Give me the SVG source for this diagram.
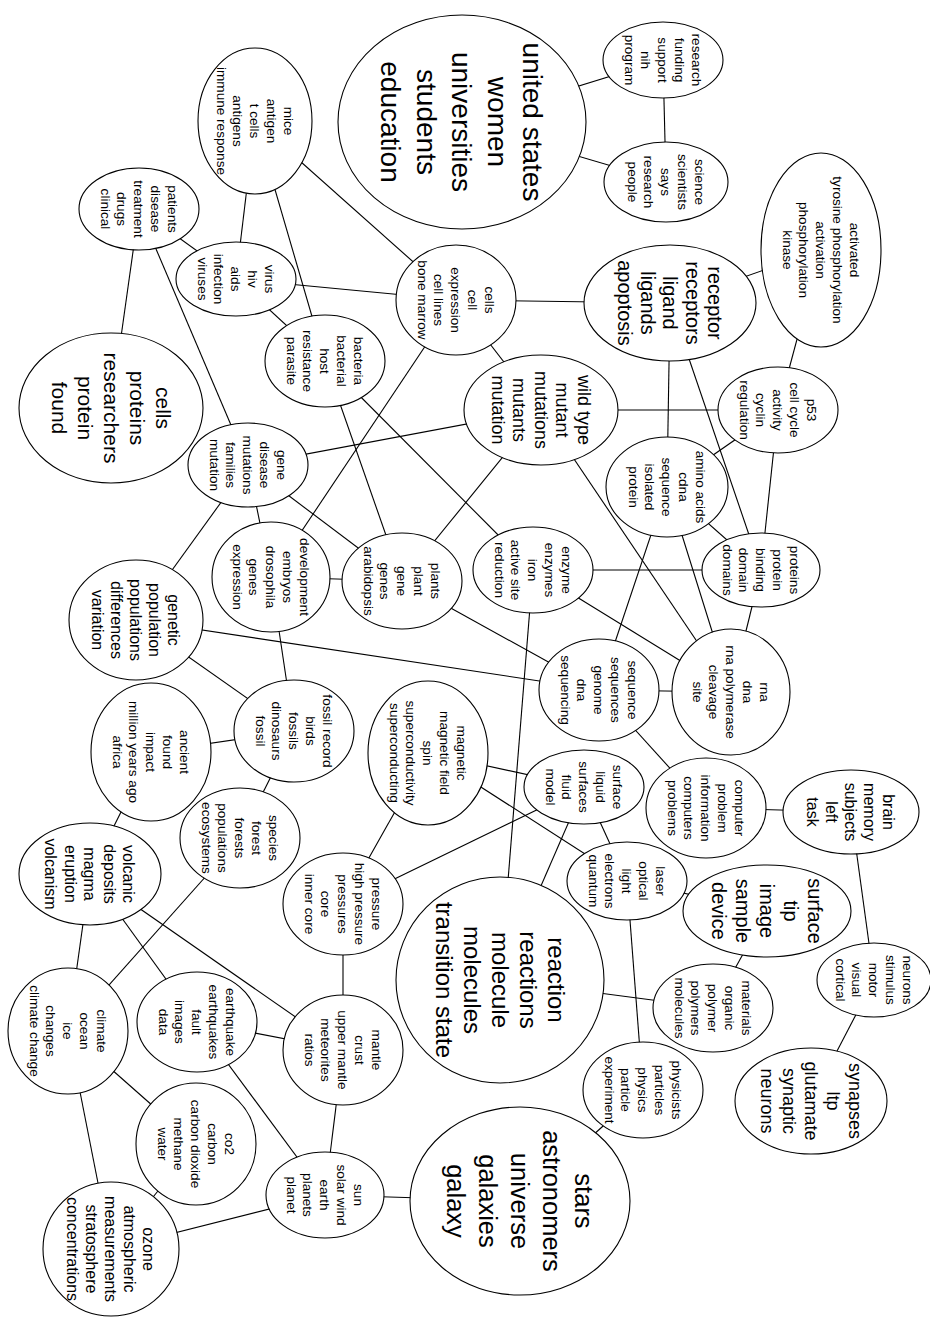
<svg xmlns="http://www.w3.org/2000/svg" width="930" height="1319" viewBox="0 0 930 1319">
<style>
rect.bg{fill:#fff}
.node ellipse{fill:#fff;stroke:#000;stroke-width:1.1}
.node text{font-family:"Liberation Sans",Arial,Helvetica,sans-serif;text-anchor:middle;fill:#000}
.t14{font-size:13.6px}.t16{font-size:16px}.t18{font-size:18px}.t20{font-size:20px}.t21{font-size:21px}.t24{font-size:24px}.t26{font-size:25.5px}.t28{font-size:28px}
#edges line{stroke:#000;stroke-width:1.1}
</style>
<rect class="bg" x="0" y="0" width="930" height="1319"/>
<g id="edges">
<line x1="462" y1="122" x2="663" y2="60"/>
<line x1="462" y1="122" x2="666" y2="182"/>
<line x1="663" y1="60" x2="666" y2="182"/>
<line x1="255" y1="121" x2="456" y2="300"/>
<line x1="456" y1="300" x2="670" y2="303"/>
<line x1="236" y1="279" x2="456" y2="300"/>
<line x1="255" y1="121" x2="236" y2="279"/>
<line x1="255" y1="121" x2="325" y2="361"/>
<line x1="236" y1="279" x2="325" y2="361"/>
<line x1="139" y1="209" x2="236" y2="279"/>
<line x1="139" y1="209" x2="111" y2="408"/>
<line x1="139" y1="209" x2="248" y2="465"/>
<line x1="456" y1="300" x2="541" y2="410"/>
<line x1="456" y1="300" x2="271" y2="577"/>
<line x1="325" y1="361" x2="402" y2="581"/>
<line x1="325" y1="361" x2="533" y2="570"/>
<line x1="248" y1="465" x2="541" y2="410"/>
<line x1="541" y1="410" x2="402" y2="581"/>
<line x1="541" y1="410" x2="731" y2="692"/>
<line x1="248" y1="465" x2="271" y2="577"/>
<line x1="248" y1="465" x2="136" y2="620"/>
<line x1="248" y1="465" x2="402" y2="581"/>
<line x1="271" y1="577" x2="402" y2="581"/>
<line x1="136" y1="620" x2="294" y2="731"/>
<line x1="136" y1="620" x2="599" y2="690"/>
<line x1="271" y1="577" x2="294" y2="731"/>
<line x1="294" y1="731" x2="151" y2="752"/>
<line x1="294" y1="731" x2="240" y2="838"/>
<line x1="151" y1="752" x2="90" y2="874"/>
<line x1="240" y1="838" x2="68" y2="1031"/>
<line x1="90" y1="874" x2="68" y2="1031"/>
<line x1="90" y1="874" x2="197" y2="1022"/>
<line x1="90" y1="874" x2="343" y2="1050"/>
<line x1="428" y1="753" x2="343" y2="904"/>
<line x1="428" y1="753" x2="584" y2="787"/>
<line x1="428" y1="753" x2="627" y2="881"/>
<line x1="343" y1="904" x2="584" y2="787"/>
<line x1="533" y1="570" x2="500" y2="980"/>
<line x1="584" y1="787" x2="500" y2="980"/>
<line x1="584" y1="787" x2="627" y2="881"/>
<line x1="599" y1="690" x2="731" y2="692"/>
<line x1="599" y1="690" x2="706" y2="808"/>
<line x1="706" y1="808" x2="851" y2="812"/>
<line x1="851" y1="812" x2="874" y2="980"/>
<line x1="874" y1="980" x2="811" y2="1101"/>
<line x1="627" y1="881" x2="767" y2="911"/>
<line x1="767" y1="911" x2="713" y2="1008"/>
<line x1="627" y1="881" x2="643" y2="1090"/>
<line x1="500" y1="980" x2="713" y2="1008"/>
<line x1="643" y1="1090" x2="520" y2="1201"/>
<line x1="520" y1="1201" x2="325" y2="1195"/>
<line x1="343" y1="1050" x2="325" y2="1195"/>
<line x1="343" y1="904" x2="343" y2="1050"/>
<line x1="197" y1="1022" x2="343" y2="1050"/>
<line x1="197" y1="1022" x2="325" y2="1195"/>
<line x1="68" y1="1031" x2="196" y2="1144"/>
<line x1="68" y1="1031" x2="111" y2="1249"/>
<line x1="196" y1="1144" x2="111" y2="1249"/>
<line x1="111" y1="1249" x2="325" y2="1195"/>
<line x1="541" y1="410" x2="778" y2="410"/>
<line x1="670" y1="303" x2="667" y2="487"/>
<line x1="670" y1="303" x2="761" y2="570"/>
<line x1="821" y1="250" x2="778" y2="410"/>
<line x1="778" y1="410" x2="667" y2="487"/>
<line x1="778" y1="410" x2="761" y2="570"/>
<line x1="667" y1="487" x2="761" y2="570"/>
<line x1="533" y1="570" x2="761" y2="570"/>
<line x1="667" y1="487" x2="599" y2="690"/>
<line x1="667" y1="487" x2="731" y2="692"/>
<line x1="761" y1="570" x2="731" y2="692"/>
<line x1="533" y1="570" x2="731" y2="692"/>
<line x1="402" y1="581" x2="599" y2="690"/>
<line x1="670" y1="303" x2="821" y2="250"/>
</g>
<g id="n-us" class="node"><ellipse cx="462" cy="122" rx="124" ry="107"/><text class="t28" transform="rotate(90 462 122)"><tspan x="462" y="60.8">united states</tspan><tspan x="462" dy="35.5">women</tspan><tspan x="462" dy="35.5">universities</tspan><tspan x="462" dy="35.5">students</tspan><tspan x="462" dy="35.5">education</tspan></text></g>
<g id="n-research" class="node"><ellipse cx="663" cy="60" rx="60" ry="38"/><text class="t14" transform="rotate(90 663 60)"><tspan x="663" y="31.16">research</tspan><tspan x="663" dy="16.8">funding</tspan><tspan x="663" dy="16.8">support</tspan><tspan x="663" dy="16.8">nih</tspan><tspan x="663" dy="16.8">program</tspan></text></g>
<g id="n-science" class="node"><ellipse cx="666" cy="182" rx="62" ry="40"/><text class="t14" transform="rotate(90 666 182)"><tspan x="666" y="153.16">science</tspan><tspan x="666" dy="16.8">scientists</tspan><tspan x="666" dy="16.8">says</tspan><tspan x="666" dy="16.8">research</tspan><tspan x="666" dy="16.8">people</tspan></text></g>
<g id="n-activated" class="node"><ellipse cx="821" cy="250" rx="60" ry="97"/><text class="t14" transform="rotate(90 821 250)"><tspan x="821" y="221.16">activated</tspan><tspan x="821" dy="16.8">tyrosine phosphorylation</tspan><tspan x="821" dy="16.8">activation</tspan><tspan x="821" dy="16.8">phosphorylation</tspan><tspan x="821" dy="16.8">kinase</tspan></text></g>
<g id="n-receptor" class="node"><ellipse cx="670" cy="303" rx="86" ry="58"/><text class="t20" transform="rotate(90 670 303)"><tspan x="670" y="265">receptor</tspan><tspan x="670" dy="22.5">receptors</tspan><tspan x="670" dy="22.5">ligand</tspan><tspan x="670" dy="22.5">ligands</tspan><tspan x="670" dy="22.5">apoptosis</tspan></text></g>
<g id="n-cellsx" class="node"><ellipse cx="456" cy="300" rx="60" ry="55"/><text class="t14" transform="rotate(90 456 300)"><tspan x="456" y="271.16">cells</tspan><tspan x="456" dy="16.8">cell</tspan><tspan x="456" dy="16.8">expression</tspan><tspan x="456" dy="16.8">cell lines</tspan><tspan x="456" dy="16.8">bone marrow</tspan></text></g>
<g id="n-mice" class="node"><ellipse cx="255" cy="121" rx="57" ry="73"/><text class="t14" transform="rotate(90 255 121)"><tspan x="255" y="92.16">mice</tspan><tspan x="255" dy="16.8">antigen</tspan><tspan x="255" dy="16.8">t cells</tspan><tspan x="255" dy="16.8">antigens</tspan><tspan x="255" dy="16.8">immune response</tspan></text></g>
<g id="n-patients" class="node"><ellipse cx="139" cy="209" rx="60" ry="41"/><text class="t14" transform="rotate(90 139 209)"><tspan x="139" y="180.16">patients</tspan><tspan x="139" dy="16.8">disease</tspan><tspan x="139" dy="16.8">treatment</tspan><tspan x="139" dy="16.8">drugs</tspan><tspan x="139" dy="16.8">clinical</tspan></text></g>
<g id="n-virus" class="node"><ellipse cx="236" cy="279" rx="60" ry="37"/><text class="t14" transform="rotate(90 236 279)"><tspan x="236" y="250.16">virus</tspan><tspan x="236" dy="16.8">hiv</tspan><tspan x="236" dy="16.8">aids</tspan><tspan x="236" dy="16.8">infection</tspan><tspan x="236" dy="16.8">viruses</tspan></text></g>
<g id="n-bacteria" class="node"><ellipse cx="325" cy="361" rx="60" ry="46"/><text class="t14" transform="rotate(90 325 361)"><tspan x="325" y="332.16">bacteria</tspan><tspan x="325" dy="16.8">bacterial</tspan><tspan x="325" dy="16.8">host</tspan><tspan x="325" dy="16.8">resistance</tspan><tspan x="325" dy="16.8">parasite</tspan></text></g>
<g id="n-cellsp" class="node"><ellipse cx="111" cy="408" rx="92" ry="75"/><text class="t21" transform="rotate(90 111 408)"><tspan x="111" y="363.35">cells</tspan><tspan x="111" dy="26">proteins</tspan><tspan x="111" dy="26">researchers</tspan><tspan x="111" dy="26">protein</tspan><tspan x="111" dy="26">found</tspan></text></g>
<g id="n-wild" class="node"><ellipse cx="541" cy="410" rx="77" ry="55"/><text class="t18" transform="rotate(90 541 410)"><tspan x="541" y="373.3">wild type</tspan><tspan x="541" dy="21.5">mutant</tspan><tspan x="541" dy="21.5">mutations</tspan><tspan x="541" dy="21.5">mutants</tspan><tspan x="541" dy="21.5">mutation</tspan></text></g>
<g id="n-gene" class="node"><ellipse cx="248" cy="465" rx="60" ry="42"/><text class="t14" transform="rotate(90 248 465)"><tspan x="248" y="436.16">gene</tspan><tspan x="248" dy="16.8">disease</tspan><tspan x="248" dy="16.8">mutations</tspan><tspan x="248" dy="16.8">families</tspan><tspan x="248" dy="16.8">mutation</tspan></text></g>
<g id="n-development" class="node"><ellipse cx="271" cy="577" rx="59" ry="55"/><text class="t14" transform="rotate(90 271 577)"><tspan x="271" y="548.16">development</tspan><tspan x="271" dy="16.8">embryos</tspan><tspan x="271" dy="16.8">drosophila</tspan><tspan x="271" dy="16.8">genes</tspan><tspan x="271" dy="16.8">expression</tspan></text></g>
<g id="n-genetic" class="node"><ellipse cx="136" cy="620" rx="67" ry="60"/><text class="t16" transform="rotate(90 136 620)"><tspan x="136" y="587.6">genetic</tspan><tspan x="136" dy="19">population</tspan><tspan x="136" dy="19">populations</tspan><tspan x="136" dy="19">differences</tspan><tspan x="136" dy="19">variation</tspan></text></g>
<g id="n-plants" class="node"><ellipse cx="402" cy="581" rx="60" ry="48"/><text class="t14" transform="rotate(90 402 581)"><tspan x="402" y="552.16">plants</tspan><tspan x="402" dy="16.8">plant</tspan><tspan x="402" dy="16.8">gene</tspan><tspan x="402" dy="16.8">genes</tspan><tspan x="402" dy="16.8">arabidopsis</tspan></text></g>
<g id="n-enzyme" class="node"><ellipse cx="533" cy="570" rx="60" ry="43"/><text class="t14" transform="rotate(90 533 570)"><tspan x="533" y="541.16">enzyme</tspan><tspan x="533" dy="16.8">enzymes</tspan><tspan x="533" dy="16.8">iron</tspan><tspan x="533" dy="16.8">active site</tspan><tspan x="533" dy="16.8">reduction</tspan></text></g>
<g id="n-p53" class="node"><ellipse cx="778" cy="410" rx="60" ry="43"/><text class="t14" transform="rotate(90 778 410)"><tspan x="778" y="381.16">p53</tspan><tspan x="778" dy="16.8">cell cycle</tspan><tspan x="778" dy="16.8">activity</tspan><tspan x="778" dy="16.8">cyclin</tspan><tspan x="778" dy="16.8">regulation</tspan></text></g>
<g id="n-amino" class="node"><ellipse cx="667" cy="487" rx="61" ry="50"/><text class="t14" transform="rotate(90 667 487)"><tspan x="667" y="458.16">amino acids</tspan><tspan x="667" dy="16.8">cdna</tspan><tspan x="667" dy="16.8">sequence</tspan><tspan x="667" dy="16.8">isolated</tspan><tspan x="667" dy="16.8">protein</tspan></text></g>
<g id="n-proteins" class="node"><ellipse cx="761" cy="570" rx="59" ry="37"/><text class="t14" transform="rotate(90 761 570)"><tspan x="761" y="541.16">proteins</tspan><tspan x="761" dy="16.8">protein</tspan><tspan x="761" dy="16.8">binding</tspan><tspan x="761" dy="16.8">domain</tspan><tspan x="761" dy="16.8">domains</tspan></text></g>
<g id="n-rna" class="node"><ellipse cx="731" cy="692" rx="59" ry="63"/><text class="t14" transform="rotate(90 731 692)"><tspan x="731" y="663.16">rna</tspan><tspan x="731" dy="16.8">dna</tspan><tspan x="731" dy="16.8">rna polymerase</tspan><tspan x="731" dy="16.8">cleavage</tspan><tspan x="731" dy="16.8">site</tspan></text></g>
<g id="n-sequence" class="node"><ellipse cx="599" cy="690" rx="60" ry="51"/><text class="t14" transform="rotate(90 599 690)"><tspan x="599" y="661.16">sequence</tspan><tspan x="599" dy="16.8">sequences</tspan><tspan x="599" dy="16.8">genome</tspan><tspan x="599" dy="16.8">dna</tspan><tspan x="599" dy="16.8">sequencing</tspan></text></g>
<g id="n-fossil" class="node"><ellipse cx="294" cy="731" rx="60" ry="51"/><text class="t14" transform="rotate(90 294 731)"><tspan x="294" y="702.16">fossil record</tspan><tspan x="294" dy="16.8">birds</tspan><tspan x="294" dy="16.8">fossils</tspan><tspan x="294" dy="16.8">dinosaurs</tspan><tspan x="294" dy="16.8">fossil</tspan></text></g>
<g id="n-ancient" class="node"><ellipse cx="151" cy="752" rx="60" ry="69"/><text class="t14" transform="rotate(90 151 752)"><tspan x="151" y="723.16">ancient</tspan><tspan x="151" dy="16.8">found</tspan><tspan x="151" dy="16.8">impact</tspan><tspan x="151" dy="16.8">million years ago</tspan><tspan x="151" dy="16.8">africa</tspan></text></g>
<g id="n-species" class="node"><ellipse cx="240" cy="838" rx="60" ry="50"/><text class="t14" transform="rotate(90 240 838)"><tspan x="240" y="809.16">species</tspan><tspan x="240" dy="16.8">forest</tspan><tspan x="240" dy="16.8">forests</tspan><tspan x="240" dy="16.8">populations</tspan><tspan x="240" dy="16.8">ecosystems</tspan></text></g>
<g id="n-volcanic" class="node"><ellipse cx="90" cy="874" rx="71" ry="51"/><text class="t16" transform="rotate(90 90 874)"><tspan x="90" y="840.6">volcanic</tspan><tspan x="90" dy="19.5">deposits</tspan><tspan x="90" dy="19.5">magma</tspan><tspan x="90" dy="19.5">eruption</tspan><tspan x="90" dy="19.5">volcanism</tspan></text></g>
<g id="n-magnetic" class="node"><ellipse cx="428" cy="753" rx="60" ry="72"/><text class="t14" transform="rotate(90 428 753)"><tspan x="428" y="724.16">magnetic</tspan><tspan x="428" dy="16.8">magnetic field</tspan><tspan x="428" dy="16.8">spin</tspan><tspan x="428" dy="16.8">superconductivity</tspan><tspan x="428" dy="16.8">superconducting</tspan></text></g>
<g id="n-surfliq" class="node"><ellipse cx="584" cy="787" rx="60" ry="37"/><text class="t14" transform="rotate(90 584 787)"><tspan x="584" y="758.16">surface</tspan><tspan x="584" dy="16.8">liquid</tspan><tspan x="584" dy="16.8">surfaces</tspan><tspan x="584" dy="16.8">fluid</tspan><tspan x="584" dy="16.8">model</tspan></text></g>
<g id="n-pressure" class="node"><ellipse cx="343" cy="904" rx="60" ry="51"/><text class="t14" transform="rotate(90 343 904)"><tspan x="343" y="875.16">pressure</tspan><tspan x="343" dy="16.8">high pressure</tspan><tspan x="343" dy="16.8">pressures</tspan><tspan x="343" dy="16.8">core</tspan><tspan x="343" dy="16.8">inner core</tspan></text></g>
<g id="n-laser" class="node"><ellipse cx="627" cy="881" rx="60" ry="39"/><text class="t14" transform="rotate(90 627 881)"><tspan x="627" y="852.16">laser</tspan><tspan x="627" dy="16.8">optical</tspan><tspan x="627" dy="16.8">light</tspan><tspan x="627" dy="16.8">electrons</tspan><tspan x="627" dy="16.8">quantum</tspan></text></g>
<g id="n-computer" class="node"><ellipse cx="706" cy="808" rx="60" ry="50"/><text class="t14" transform="rotate(90 706 808)"><tspan x="706" y="779.16">computer</tspan><tspan x="706" dy="16.8">problem</tspan><tspan x="706" dy="16.8">information</tspan><tspan x="706" dy="16.8">computers</tspan><tspan x="706" dy="16.8">problems</tspan></text></g>
<g id="n-brain" class="node"><ellipse cx="851" cy="812" rx="68" ry="42"/><text class="t16" transform="rotate(90 851 812)"><tspan x="851" y="779.6">brain</tspan><tspan x="851" dy="19">memory</tspan><tspan x="851" dy="19">subjects</tspan><tspan x="851" dy="19">left</tspan><tspan x="851" dy="19">task</tspan></text></g>
<g id="n-surftip" class="node"><ellipse cx="767" cy="911" rx="84" ry="46"/><text class="t20" transform="rotate(90 767 911)"><tspan x="767" y="870">surface</tspan><tspan x="767" dy="24">tip</tspan><tspan x="767" dy="24">image</tspan><tspan x="767" dy="24">sample</tspan><tspan x="767" dy="24">device</tspan></text></g>
<g id="n-reaction" class="node"><ellipse cx="500" cy="980" rx="104" ry="103"/><text class="t24" transform="rotate(90 500 980)"><tspan x="500" y="932.4">reaction</tspan><tspan x="500" dy="28">reactions</tspan><tspan x="500" dy="28">molecule</tspan><tspan x="500" dy="28">molecules</tspan><tspan x="500" dy="28">transition state</tspan></text></g>
<g id="n-materials" class="node"><ellipse cx="713" cy="1008" rx="60" ry="44"/><text class="t14" transform="rotate(90 713 1008)"><tspan x="713" y="979.16">materials</tspan><tspan x="713" dy="16.8">organic</tspan><tspan x="713" dy="16.8">polymer</tspan><tspan x="713" dy="16.8">polymers</tspan><tspan x="713" dy="16.8">molecules</tspan></text></g>
<g id="n-neurons" class="node"><ellipse cx="874" cy="980" rx="57" ry="37"/><text class="t14" transform="rotate(90 874 980)"><tspan x="874" y="951.16">neurons</tspan><tspan x="874" dy="16.8">stimulus</tspan><tspan x="874" dy="16.8">motor</tspan><tspan x="874" dy="16.8">visual</tspan><tspan x="874" dy="16.8">cortical</tspan></text></g>
<g id="n-synapses" class="node"><ellipse cx="811" cy="1101" rx="76" ry="53"/><text class="t18" transform="rotate(90 811 1101)"><tspan x="811" y="1063.3">synapses</tspan><tspan x="811" dy="22">ltp</tspan><tspan x="811" dy="22">glutamate</tspan><tspan x="811" dy="22">synaptic</tspan><tspan x="811" dy="22">neurons</tspan></text></g>
<g id="n-physicists" class="node"><ellipse cx="643" cy="1090" rx="60" ry="48"/><text class="t14" transform="rotate(90 643 1090)"><tspan x="643" y="1061.16">physicists</tspan><tspan x="643" dy="16.8">particles</tspan><tspan x="643" dy="16.8">physics</tspan><tspan x="643" dy="16.8">particle</tspan><tspan x="643" dy="16.8">experiment</tspan></text></g>
<g id="n-mantle" class="node"><ellipse cx="343" cy="1050" rx="60" ry="55"/><text class="t14" transform="rotate(90 343 1050)"><tspan x="343" y="1021.16">mantle</tspan><tspan x="343" dy="16.8">crust</tspan><tspan x="343" dy="16.8">upper mantle</tspan><tspan x="343" dy="16.8">meteorites</tspan><tspan x="343" dy="16.8">ratios</tspan></text></g>
<g id="n-earthquake" class="node"><ellipse cx="197" cy="1022" rx="60" ry="50"/><text class="t14" transform="rotate(90 197 1022)"><tspan x="197" y="993.16">earthquake</tspan><tspan x="197" dy="16.8">earthquakes</tspan><tspan x="197" dy="16.8">fault</tspan><tspan x="197" dy="16.8">images</tspan><tspan x="197" dy="16.8">data</tspan></text></g>
<g id="n-climate" class="node"><ellipse cx="68" cy="1031" rx="60" ry="63"/><text class="t14" transform="rotate(90 68 1031)"><tspan x="68" y="1002.16">climate</tspan><tspan x="68" dy="16.8">ocean</tspan><tspan x="68" dy="16.8">ice</tspan><tspan x="68" dy="16.8">changes</tspan><tspan x="68" dy="16.8">climate change</tspan></text></g>
<g id="n-co2" class="node"><ellipse cx="196" cy="1144" rx="60" ry="61"/><text class="t14" transform="rotate(90 196 1144)"><tspan x="196" y="1115.16">co2</tspan><tspan x="196" dy="16.8">carbon</tspan><tspan x="196" dy="16.8">carbon dioxide</tspan><tspan x="196" dy="16.8">methane</tspan><tspan x="196" dy="16.8">water</tspan></text></g>
<g id="n-sun" class="node"><ellipse cx="325" cy="1195" rx="59" ry="43"/><text class="t14" transform="rotate(90 325 1195)"><tspan x="325" y="1166.16">sun</tspan><tspan x="325" dy="16.8">solar wind</tspan><tspan x="325" dy="16.8">earth</tspan><tspan x="325" dy="16.8">planets</tspan><tspan x="325" dy="16.8">planet</tspan></text></g>
<g id="n-stars" class="node"><ellipse cx="520" cy="1201" rx="110" ry="94"/><text class="t26" transform="rotate(90 520 1201)"><tspan x="520" y="1145.9">stars</tspan><tspan x="520" dy="32">astronomers</tspan><tspan x="520" dy="32">universe</tspan><tspan x="520" dy="32">galaxies</tspan><tspan x="520" dy="32">galaxy</tspan></text></g>
<g id="n-ozone" class="node"><ellipse cx="111" cy="1249" rx="68" ry="67"/><text class="t16" transform="rotate(90 111 1249)"><tspan x="111" y="1216.6">ozone</tspan><tspan x="111" dy="19">atmospheric</tspan><tspan x="111" dy="19">measurements</tspan><tspan x="111" dy="19">stratosphere</tspan><tspan x="111" dy="19">concentrations</tspan></text></g>
</svg>
